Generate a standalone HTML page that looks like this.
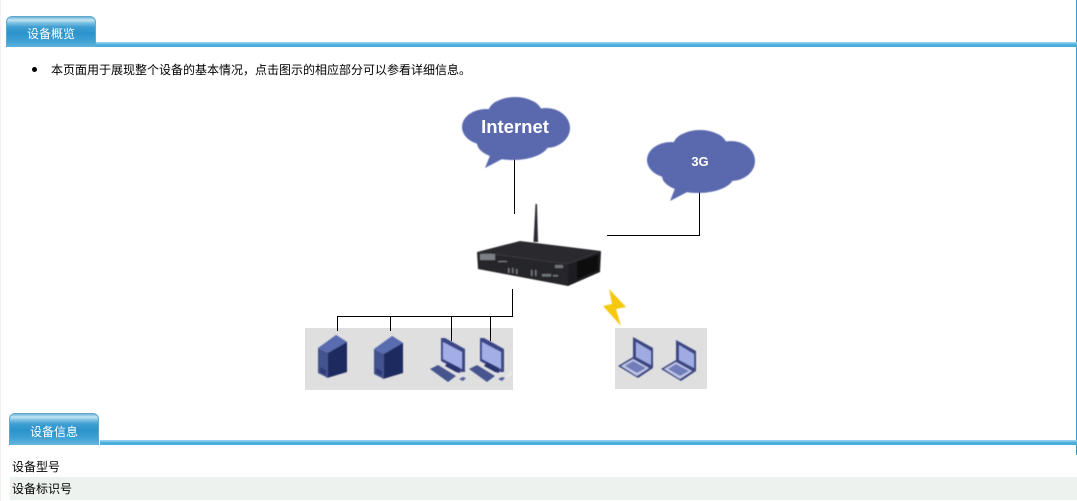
<!DOCTYPE html>
<html><head><meta charset="utf-8">
<style>
html,body{margin:0;padding:0;background:#fff;width:1077px;height:501px;overflow:hidden}
.wrap{position:relative;width:1077px;height:501px;overflow:hidden;font:12px "Liberation Sans","WenQuanYi Zen Hei","Noto Sans CJK SC",sans-serif;color:#000}
.a{position:absolute}
.tab{position:absolute;width:90px;height:31px;border-radius:6px 6px 0 0;box-sizing:border-box;border:1px solid #5fa9cf;border-bottom:0;
background:linear-gradient(#6cb4d8 0,#c4e4f3 3px,#7cc0e2 6px,#3f9fd2 10px,#2a93cb 16px,#3c9fd3 23px,#63b7de 31px);
color:#fff;text-align:center;line-height:34px;font-size:12px}
.bar{position:absolute;height:5px;background:linear-gradient(#9bd3ec 0,#7cc6e8 1.5px,#4aaedd 2.5px,#4aaedd 100%)}
</style></head><body>
<div class="wrap">
<div class="a" style="left:0;top:0;width:1px;height:501px;background:#f1f1f1"></div>
<div class="a" style="left:1076px;top:0;width:1px;height:455px;background:#3f94c0"></div>
<div class="bar" style="left:96px;top:42px;width:981px"></div>
<div class="tab" style="left:6px;top:16px">设备概览</div>
<div class="a" style="left:32px;top:67px;width:5px;height:5px;border-radius:50%;background:#000"></div>
<div class="a" style="left:51px;top:63px;line-height:14px;white-space:nowrap">本页面用于展现整个设备的基本情况，点击图示的相应部分可以参看详细信息。</div>

<svg class="a" style="left:0;top:0" width="1077" height="501" viewBox="0 0 1077 501">
<defs>
<filter id="b" x="-10%" y="-10%" width="120%" height="120%"><feGaussianBlur stdDeviation="0.45"/></filter>
</defs>
<rect x="305" y="328" width="208" height="62" fill="#dfdfdf"/>
<rect x="615" y="328" width="92" height="61" fill="#dfdfdf"/>
<g fill="none" stroke="#000" stroke-width="1">
<path d="M514.500 158V214"/>
<path d="M699.500 190V235.500H607"/>
<path d="M512.500 289V316.500H337.500V331"/>
<path d="M390.500 316V331M451.500 316V341M490.500 316V341"/>
</g>
<g fill="#5a69ae" filter="url(#b)">
<g id="c1">
<ellipse cx="486" cy="127" rx="24" ry="18"/>
<ellipse cx="515" cy="113" rx="27" ry="16"/>
<ellipse cx="546" cy="128" rx="24" ry="20"/>
<ellipse cx="513" cy="143" rx="36" ry="17"/>
<path d="M485 168L491 153 508 156z"/>
</g>
<g transform="translate(185 33)">
<ellipse cx="486" cy="127" rx="24" ry="18"/>
<ellipse cx="515" cy="113" rx="27" ry="16"/>
<ellipse cx="546" cy="128" rx="24" ry="20"/>
<ellipse cx="513" cy="143" rx="36" ry="17"/>
<path d="M485 168L491 153 508 156z"/>
</g>
</g>
<text x="515" y="133" text-anchor="middle" font-family="Liberation Sans" font-weight="700" font-size="18.500" fill="#fff">Internet</text>
<text x="700" y="166" text-anchor="middle" font-family="Liberation Sans" font-weight="700" font-size="13" fill="#fff">3G</text>

<g filter="url(#b)">
<!-- router -->
<path d="M533.500 242L535.500 204h1.500L538 242z" fill="#2a2a30"/>
<path d="M477 252L520 241 601 251 568 264z" fill="#2b2b2e"/>
<path d="M477 252L568 264V286L478 269z" fill="#25262b"/>
<path d="M568 264L601 251 600 272 568 286z" fill="#1c1d20"/>
<path d="M577 262L598 255V270L577 279z" fill="#0b0b0d"/>
<g fill="#7c8086"><rect x="480" y="254" width="15" height="6"/><rect x="498" y="261" width="9" height="1"/></g>
<g fill="#70747a"><rect x="508" y="268" width="1.500" height="5"/><rect x="512" y="268" width="1.500" height="5"/><rect x="516" y="269" width="1.500" height="5"/><rect x="531" y="270" width="1.500" height="6"/><rect x="535" y="270" width="1.500" height="6"/><rect x="542" y="274" width="9" height="2.500"/><rect x="553" y="275" width="5" height="1.500"/><rect x="555" y="265" width="8" height="3"/></g>

<!-- bolt -->
<path d="M609 289L626 307 616 309 621 326 603 306 612 304z" fill="#f5c80f"/>

<!-- servers -->
<g>
<path d="M336 335L347 342V372L327 378 327 352z" fill="#1f2a5e"/>
<path d="M318 348L336 335 347 342 328 353z" fill="#5a6cb0"/>
<path d="M318 348L328 353V378L318 373z" fill="#43528f"/>
<path d="M320 367L326 370V375L320 372z" fill="#2f3b78"/>
</g>
<g transform="translate(56 1)">
<path d="M336 335L347 342V372L327 378 327 352z" fill="#1f2a5e"/>
<path d="M318 348L336 335 347 342 328 353z" fill="#5a6cb0"/>
<path d="M318 348L328 353V378L318 373z" fill="#43528f"/>
<path d="M320 367L326 370V375L320 372z" fill="#2f3b78"/>
</g>
<!-- PCs -->
<g>
<path d="M441 338L445 338 465 349V372L461 372 441 361z" fill="#3a4786"/>
<path d="M443 342L462 352V369L443 359z" fill="#a3aee6"/>
<path d="M448 362L460 368V373L456 372 445 366z" fill="#2c3670"/>
<path d="M430 369L438 365 456 376 448 382z" fill="#47558f"/>
<path d="M459 379L463 377 466 378 463 381z" fill="#5362a4"/>
</g>
<g transform="translate(39 0)">
<path d="M441 338L445 338 465 349V372L461 372 441 361z" fill="#3a4786"/>
<path d="M443 342L462 352V369L443 359z" fill="#a3aee6"/>
<path d="M448 362L460 368V373L456 372 445 366z" fill="#2c3670"/>
<path d="M430 369L438 365 456 376 448 382z" fill="#47558f"/>
<path d="M459 379L463 377 466 378 463 381z" fill="#5362a4"/>
<path d="M467 376q6 0 5-5" fill="none" stroke="#f3f3f3"/>
</g>
<!-- laptops -->
<g>
<path d="M633 337L653 348V368L638 378 618 366 633 357z" fill="#3a4782"/>
<path d="M636 342L651 351V365L636 357z" fill="#a0abe3"/>
<path d="M621 366L633 359 649 368 637 376z" fill="#c1c7e8"/>
<path d="M625 366L633 361 646 368 637 373z" fill="#6f7db8"/>
</g>
<g transform="translate(43 3)">
<path d="M633 337L653 348V368L638 378 618 366 633 357z" fill="#3a4782"/>
<path d="M636 342L651 351V365L636 357z" fill="#a0abe3"/>
<path d="M621 366L633 359 649 368 637 376z" fill="#c1c7e8"/>
<path d="M625 366L633 361 646 368 637 373z" fill="#6f7db8"/>
</g>
</g>
</svg>

<div class="bar" style="left:100px;top:440px;width:977px"></div>
<div class="tab" style="left:9px;top:413px;height:32px;line-height:36px">设备信息</div>
<div class="a" style="left:10px;top:477px;width:1067px;height:23px;background:#eef2ef"></div>
<div class="a" style="left:12px;top:460px;line-height:14px">设备型号</div>
<div class="a" style="left:12px;top:482px;line-height:14px">设备标识号</div>
</div>
</body></html>
